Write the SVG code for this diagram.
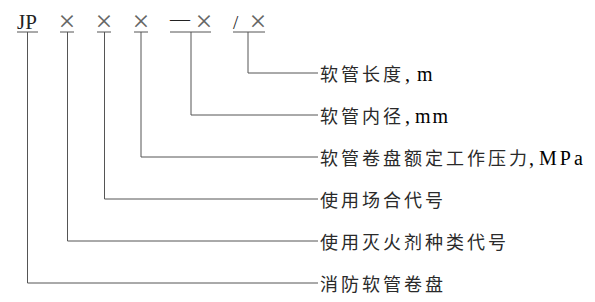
<svg xmlns="http://www.w3.org/2000/svg" width="595" height="302" viewBox="0 0 595 302">
<style>
.ln{stroke:#555;stroke-width:1;fill:none}
.top{font-family:"Liberation Serif",serif;fill:#222}
.x{font-family:"Liberation Serif",serif;font-size:30px;fill:#666;text-anchor:middle}
.lab{font-family:"Noto Sans CJK SC",sans-serif;font-size:18px;letter-spacing:3px;fill:#2a2a2a}
.lat{font-family:"Liberation Serif",serif;font-size:20px;letter-spacing:2px}
</style>
<rect width="595" height="302" fill="#fff"/>
<g id="code">
<text class="top" x="17" y="29" font-size="21">JP</text>
<text class="x" x="67" y="31">×</text>
<text class="x" x="104" y="31">×</text>
<text class="x" x="141" y="31">×</text>
<text class="top" x="170" y="26" font-size="20" fill="#555">—</text>
<text class="x" x="204" y="31">×</text>
<text class="top" x="233" y="29" font-size="19" fill="#555">/</text>
<text class="x" x="258" y="31">×</text>
<path class="ln" d="M17 32H38M60 32H74M97 32H111M134 32H148M170 32H211M233 32H265"/>
</g>
<g id="connectors">
<path class="ln" d="M248 32V73H318"/>
<path class="ln" d="M191 32V115H318"/>
<path class="ln" d="M141 32V157H318"/>
<path class="ln" d="M104.5 32V199H318"/>
<path class="ln" d="M67.5 32V241H318"/>
<path class="ln" d="M27.5 32V283H318"/>
</g>
<g id="label-length"><text class="lab" x="320" y="81">软管长度</text><text class="lat" x="405" y="81">,</text><text class="lat" x="417" y="81">m</text></g>
<g id="label-diameter"><text class="lab" x="320" y="123">软管内径</text><text class="lat" x="405" y="123">,</text><text class="lat" x="415" y="123">mm</text></g>
<g id="label-pressure"><text class="lab" x="320" y="165">软管卷盘额定工作压力</text><text class="lat" x="529" y="165">,</text><text class="lat" x="539" y="165" style="letter-spacing:3px">MPa</text></g>
<g id="label-place"><text class="lab" x="320" y="207">使用场合代号</text></g>
<g id="label-agent"><text class="lab" x="320" y="249">使用灭火剂种类代号</text></g>
<g id="label-reel"><text class="lab" x="320" y="291">消防软管卷盘</text></g>
</svg>
